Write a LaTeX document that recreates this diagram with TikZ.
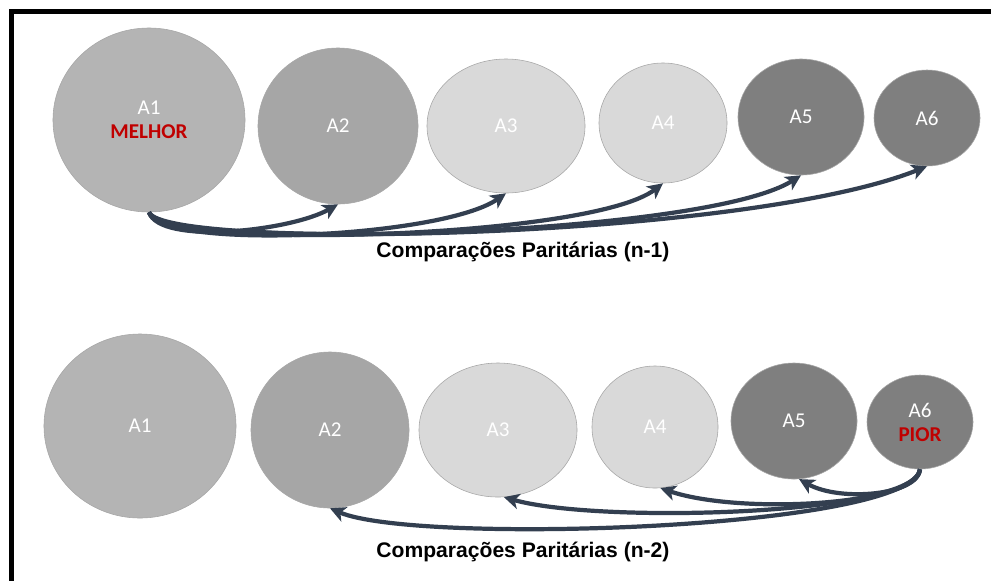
\documentclass[tikz,border=0pt]{standalone}
\usepackage{fontspec}
\setmainfont{Carlito}
\newfontfamily\capfont{Liberation Sans}
\usetikzlibrary{shapes.geometric,arrows.meta}

\definecolor{navy}{HTML}{333F50}
\definecolor{rank}{HTML}{C00000}
\definecolor{greyA}{HTML}{B4B4B4}
\definecolor{greyB}{HTML}{A6A6A6}
\definecolor{greyC}{HTML}{D9D9D9}
\definecolor{greyD}{HTML}{7F7F7F}

\tikzset{
  alt/.style={ellipse, draw=gray!70, line width=0.4pt, inner sep=0pt, text=white,
    align=center, font=\fontsize{15}{18}\selectfont},
  comp/.style={draw=navy, line width=3pt, -{Stealth[length=11pt,width=11pt,inset=3pt]}},
  rank/.style={font=\bfseries, text=rank},
  caption/.style={font=\capfont\bfseries\fontsize{15}{17}\selectfont}
}

\begin{document}
\begin{tikzpicture}[x=0.025cm, y=-0.025cm]
\useasboundingbox (0,0) rectangle (991,581);
%\draw [help lines, step=50] (0,0) grid (991,581);
\draw [line width=3.5pt] (991,11.5) -- (11.5,11.5) -- (11.5,581);

% first row: A1 against all the others
\node [alt, fill=greyA, minimum width=4.8cm, minimum height=4.6cm] (a1) at (149,120) {A1\\[-1pt]\textcolor{rank}{\bfseries MELHOR}};
\node [alt, fill=greyB, minimum width=4.0cm, minimum height=3.9cm] (a2) at (338,126) {A2};
\node [alt, fill=greyC, minimum width=3.95cm, minimum height=3.35cm] (a3) at (506,126) {A3};
\node [alt, fill=greyC, minimum width=3.2cm, minimum height=3.0cm] (a4) at (663,123) {A4};
\node [alt, fill=greyD, minimum width=3.15cm, minimum height=2.9cm] (a5) at (801,117) {A5};
\node [alt, fill=greyD, minimum width=2.65cm, minimum height=2.4cm] (a6) at (927,118) {A6};
\draw [comp] (a1.south) .. controls +(11,33) and +(-48,27) .. (a2.south);
\draw [comp] (a1.south) .. controls +(11,38) and +(-65,45) .. (a3.south);
\draw [comp] (a1.south) .. controls +(11,38) and +(-73,56) .. (a4.south);
\draw [comp] (a1.south) .. controls +(11,38) and +(-100,63) .. (a5.south);
\draw [comp] (a1.south) .. controls +(16,38) and +(-185,74) .. (a6.south);
\node [caption] (cap1) at (523,252) {Comparações Paritárias (n-1)};

% second row: A6 against the rest
\node [alt, fill=greyA, minimum width=4.8cm, minimum height=4.6cm] (b1) at (140,426) {A1};
\node [alt, fill=greyB, minimum width=3.95cm, minimum height=3.9cm] (b2) at (330,430) {A2};
\node [alt, fill=greyC, minimum width=3.95cm, minimum height=3.35cm] (b3) at (498,430) {A3};
\node [alt, fill=greyC, minimum width=3.15cm, minimum height=3.05cm] (b4) at (655,427) {A4};
\node [alt, fill=greyD, minimum width=3.15cm, minimum height=2.9cm] (b5) at (794,421) {A5};
\node [alt, fill=greyD, minimum width=2.65cm, minimum height=2.35cm] (b6) at (920,422) {A6\\[-1pt]\textcolor{rank}{\bfseries PIOR}};
\draw [comp] (b6.south) .. controls +(-2,26) and +(41,23) .. (b5.-85);
\draw [comp] (b6.south) .. controls +(-2,36) and +(80,27) .. (b4.-85);
\draw [comp] (b6.south) .. controls +(-5,46) and +(95,27) .. (b3.-85);
\draw [comp] (b6.south) .. controls +(-10,60) and +(87,37) .. (b2.south);
\node [caption] (cap2) at (523,552) {Comparações Paritárias (n-2)};
\end{tikzpicture}
\end{document}
